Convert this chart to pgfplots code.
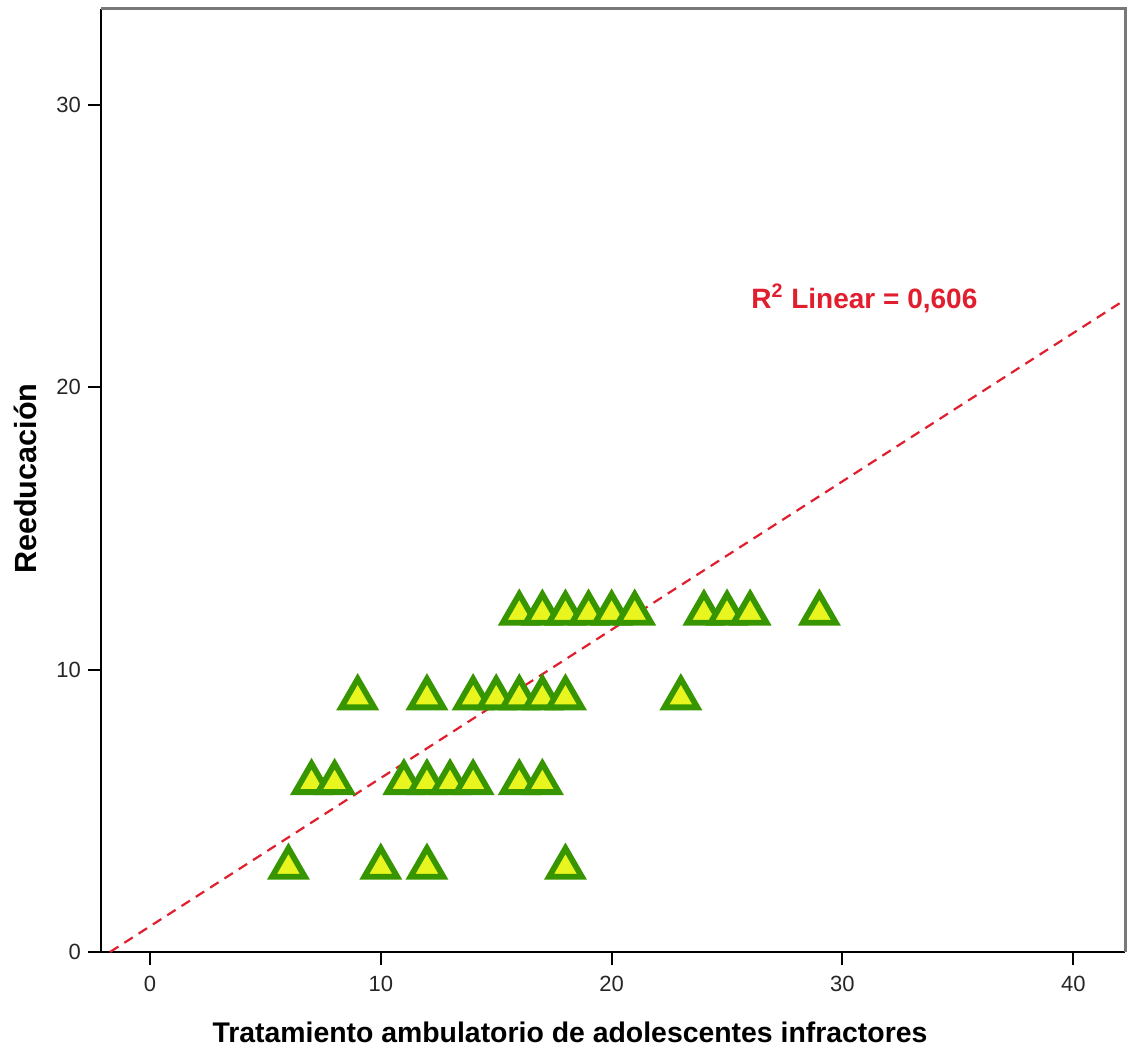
\documentclass[border=0pt]{standalone}
\usepackage{pgfplots}
\pgfplotsset{compat=1.18}
\usepackage{fontspec}
\setmainfont{Liberation Sans}
\definecolor{mkedge}{RGB}{55,150,0}
\definecolor{mkfill}{RGB}{232,245,30}
\definecolor{fitred}{RGB}{225,30,45}
\definecolor{framegray}{RGB}{120,120,120}
\begin{document}
\begin{tikzpicture}
\useasboundingbox (-50.5pt,-51pt) rectangle (513pt,476pt);
\begin{axis}[
  scale only axis,
  width=512pt, height=471.5pt,
  xmin=-2.12, xmax=42.24,
  ymin=0, ymax=33.4,
  xtick={0,10,20,30,40},
  ytick={0,10,20,30},
  tick pos=left,
  tick align=outside,
  major tick length=6.5pt,
  every tick/.style={black, line width=1pt},
  axis line style={draw=none},
  /pgf/number format/assume math mode=true,
  ticklabel style={font=\fontsize{11}{12}\selectfont, text=black!85},
  xticklabel style={yshift=-2pt},
  clip=false,
]
\draw[black, line width=1.2pt] (rel axis cs:0,1) -- (rel axis cs:0,0) -- (rel axis cs:1,0);
\draw[framegray, line width=1.5pt] (rel axis cs:0,1) -- (rel axis cs:1,1) -- (rel axis cs:1,0);
\addplot[fitred, line width=1.1pt, dash pattern=on 5pt off 3.5pt]
  coordinates {(-1.73,0) (42.24,23.1)};
\addplot[only marks, mark=triangle*, mark size=9.5pt,
  mark options={draw=mkedge, fill=mkfill, line width=2.9pt}]
  coordinates {
  (6,3) (10,3) (12,3) (18,3)
  (7,6) (8,6) (11,6) (12,6) (13,6) (14,6) (16,6) (17,6)
  (9,9) (12,9) (14,9) (15,9) (16,9) (17,9) (18,9) (23,9)
  (16,12) (17,12) (18,12) (19,12) (20,12) (21,12) (24,12) (25,12) (26,12) (29,12)
  };
\node[anchor=center, text=fitred, font=\fontsize{14}{16}\selectfont\bfseries]
  at (axis cs:30.95,23.15) {R\textsuperscript{2} Linear = 0,606};
\node[anchor=center, font=\fontsize{14.2}{16}\selectfont\bfseries]
  at (axis description cs:0.458,-0.085) {Tratamiento ambulatorio de adolescentes infractores};
\node[anchor=center, rotate=90, font=\fontsize{15.3}{16}\selectfont\bfseries]
  at (axis description cs:-0.0742,0.502) {Reeducación};
\end{axis}
\end{tikzpicture}
\end{document}
